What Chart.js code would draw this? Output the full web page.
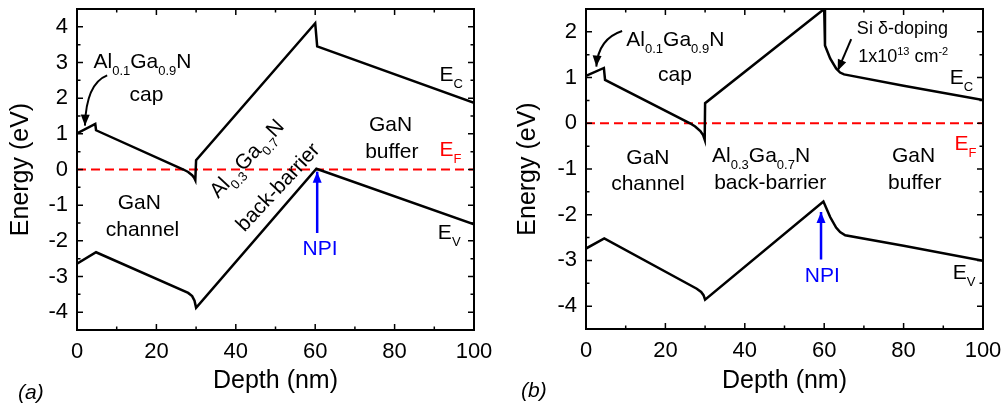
<!DOCTYPE html>
<html>
<head>
<meta charset="utf-8">
<script src="https://cdn.jsdelivr.net/npm/chart.js@4.4.1/dist/chart.umd.min.js"></script>
<style>
    body { margin: 0; background: #fff; }
    #wrap { position: relative; width: 1005px; height: 407px; }
    canvas { position: absolute; top: 0; }
    #chartA { left: 0; }
    #chartB { left: 502px; }
</style>
</head>
<body>
<div id="wrap">
    <canvas id="chartA" width="502" height="407"></canvas>
    <canvas id="chartB" width="503" height="407"></canvas>
</div>
<script>
// Panel (a): band edges, depth in nm, energy in eV
const depthA_Ec = [0, 4.6, 4.8, 26.8, 28, 29, 29.5, 29.8, 30, 60, 60.5, 100];
const energyA_Ec = [1.01, 1.28, 1.10, 0.0, -0.07, -0.16, -0.23, -0.30, 0.26, 4.10, 3.45, 1.87];
const depthA_Ev = [0, 4.8, 28, 29, 29.6, 30, 60.3, 100];
const energyA_Ev = [-2.64, -2.32, -3.46, -3.55, -3.68, -3.88, 0.02, -1.54];

// Panel (b)
const depthB_Ec = [0, 4.5, 4.8, 26.2, 27.5, 28.8, 29.5, 29.9, 30, 60, 60.2, 61.5, 63, 64, 65, 80, 100];
const energyB_Ec = [1.04, 1.21, 0.95, 0.0, -0.07, -0.17, -0.26, -0.36, 0.44, 2.5, 1.70, 1.42, 1.20, 1.11, 1.07, 0.82, 0.51];
const depthB_Ev = [0, 4.6, 27.9, 29, 29.6, 30, 59.8, 61.5, 63, 64, 65.3, 80, 100];
const energyB_Ev = [-2.74, -2.52, -3.62, -3.69, -3.76, -3.86, -1.71, -2.05, -2.28, -2.38, -2.45, -2.68, -3.01];

// Fermi level
const fermiDepth = [0, 100];
const fermiEnergy = [0, 0];

// Axis ticks
const depthTicks = [0, 20, 40, 60, 80, 100];
const energyTicksA = [-4, -3, -2, -1, 0, 1, 2, 3, 4];
const energyTicksB = [-4, -3, -2, -1, 0, 1, 2];

const FONT = "'Liberation Sans', Arial, sans-serif";
Chart.defaults.font.family = FONT;
Chart.defaults.color = '#000';

function toPoints(xs, ys) {
    return xs.map((x, i) => ({ x: x, y: ys[i] }));
}

function bandDataset(xs, ys) {
    return {
        data: toPoints(xs, ys),
        showLine: true,
        borderColor: '#000',
        borderWidth: 2.5,
        pointRadius: 0,
        tension: 0
    };
}

function fermiDataset() {
    return {
        data: toPoints(fermiDepth, fermiEnergy),
        showLine: true,
        borderColor: '#ff0000',
        borderWidth: 2,
        borderDash: [9, 5],
        pointRadius: 0
    };
}

// Text with sub/superscripts: parts = [[text, 'sub'|'sup'|undefined], ...]
function drawRich(ctx, parts, x, y, size, align, italic) {
    const fontOf = m => (italic ? 'italic ' : '') + (m ? Math.round(size * 0.62) : size) + 'px ' + FONT;
    let total = 0;
    parts.forEach(p => { ctx.font = fontOf(p[1]); total += ctx.measureText(p[0]).width; });
    let cx = align === 'center' ? x - total / 2 : (align === 'right' ? x - total : x);
    ctx.textAlign = 'left';
    ctx.textBaseline = 'alphabetic';
    parts.forEach(p => {
        ctx.font = fontOf(p[1]);
        const dy = p[1] === 'sub' ? size * 0.33 : (p[1] === 'sup' ? -size * 0.42 : 0);
        ctx.fillText(p[0], cx, y + dy);
        cx += ctx.measureText(p[0]).width;
    });
}

function drawHead(ctx, tx, ty, angle, len, half) {
    ctx.beginPath();
    ctx.moveTo(tx, ty);
    ctx.lineTo(tx - len * Math.cos(angle) + half * Math.sin(angle), ty - len * Math.sin(angle) - half * Math.cos(angle));
    ctx.lineTo(tx - len * Math.cos(angle) - half * Math.sin(angle), ty - len * Math.sin(angle) + half * Math.cos(angle));
    ctx.closePath();
    ctx.fill();
}

// Frame with inward ticks on all four sides
const frameTicks = {
    id: 'frameTicks',
    afterDatasetsDraw(chart) {
        const { ctx, chartArea: a, scales: { x, y } } = chart;
        ctx.save();
        ctx.strokeStyle = '#000';
        ctx.lineWidth = 1.5;
        ctx.beginPath();
        const xMajor = x.ticks.map(t => t.value);
        for (let v = x.min; v <= x.max + 1e-9; v += 10) {
            const px = x.getPixelForValue(v);
            const len = xMajor.some(m => Math.abs(m - v) < 1e-6) ? 6 : 3.5;
            ctx.moveTo(px, a.bottom); ctx.lineTo(px, a.bottom - len);
            ctx.moveTo(px, a.top); ctx.lineTo(px, a.top + len);
        }
        const yMajor = y.ticks.map(t => t.value);
        for (let v = y.min; v <= y.max + 1e-9; v += 0.5) {
            const py = y.getPixelForValue(v);
            const len = yMajor.some(m => Math.abs(m - v) < 1e-6) ? 6 : 3.5;
            ctx.moveTo(a.left, py); ctx.lineTo(a.left + len, py);
            ctx.moveTo(a.right, py); ctx.lineTo(a.right - len, py);
        }
        ctx.stroke();
        ctx.lineWidth = 2;
        ctx.strokeRect(a.left, a.top, a.right - a.left, a.bottom - a.top);
        ctx.restore();
    }
};

// Labels and arrows placed in data coordinates
const notes = {
    id: 'notes',
    afterDraw(chart, args, opts) {
        const { ctx, scales: { x, y } } = chart;
        const px = v => x.getPixelForValue(v);
        const py = v => y.getPixelForValue(v);
        ctx.save();
        (opts.items || []).forEach(it => {
            ctx.fillStyle = it.color || '#000';
            ctx.strokeStyle = it.color || '#000';
            if (it.type === 'text') {
                ctx.save();
                ctx.translate(px(it.x), py(it.y));
                if (it.rotate) ctx.rotate(it.rotate * Math.PI / 180);
                drawRich(ctx, it.parts, 0, 0, it.size || 21, it.align || 'center');
                ctx.restore();
            } else if (it.type === 'arrow') {
                const x0 = px(it.from[0]), y0 = py(it.from[1]);
                const x1 = px(it.to[0]), y1 = py(it.to[1]);
                ctx.lineWidth = it.width || 2;
                ctx.beginPath();
                ctx.moveTo(x0, y0);
                let ang;
                if (it.ctrl) {
                    const cx = px(it.ctrl[0]), cy = py(it.ctrl[1]);
                    ctx.quadraticCurveTo(cx, cy, x1, y1);
                    ang = Math.atan2(y1 - cy, x1 - cx);
                } else {
                    ctx.lineTo(x1, y1);
                    ang = Math.atan2(y1 - y0, x1 - x0);
                }
                ctx.stroke();
                drawHead(ctx, x1, y1, ang, 11, 4.5);
            }
        });
        if (opts.panel) {
            ctx.fillStyle = '#000';
            drawRich(ctx, [[opts.panel[0]]], opts.panel[1], opts.panel[2], 21, 'left', true);
        }
        ctx.restore();
    }
};

function getChartOptions(cfg) {
    return {
        responsive: false,
        animation: false,
        layout: { padding: { top: 9, right: cfg.padRight, left: 0, bottom: 0 } },
        plugins: {
            legend: { display: false },
            tooltip: { enabled: false },
            notes: { items: cfg.items, panel: cfg.panel }
        },
        scales: {
            x: {
                type: 'linear',
                min: 0,
                max: 100,
                grid: { display: false, drawTicks: false },
                border: { display: false },
                afterBuildTicks: s => { s.ticks = depthTicks.map(v => ({ value: v })); },
                ticks: { padding: 9, font: { size: 22 }, color: '#000' },
                title: { display: true, text: 'Depth (nm)', font: { size: 25 }, color: '#000', padding: { top: 0, bottom: 11 } },
                afterFit: s => {
                    s.height = cfg.xAxisHeight;
                    s.paddingLeft = 0;
                    s.paddingRight = 0;
                }
            },
            y: {
                type: 'linear',
                min: cfg.yMin,
                max: cfg.yMax,
                grid: { display: false, drawTicks: false },
                border: { display: false },
                afterBuildTicks: s => { s.ticks = cfg.yTicks.map(v => ({ value: v })); },
                ticks: { padding: 9, font: { size: 22 }, color: '#000' },
                title: { display: true, text: 'Energy (eV)', font: { size: 25 }, color: '#000', padding: { top: cfg.yTitlePad, bottom: 0 } },
                afterFit: s => {
                    s.width = cfg.yAxisWidth;
                    s.paddingTop = 0;
                    s.paddingBottom = 0;
                }
            }
        }
    };
}

const subAl01 = [['Al'], ['0.1', 'sub'], ['Ga'], ['0.9', 'sub'], ['N']];
const subAl03 = [['Al'], ['0.3', 'sub'], ['Ga'], ['0.7', 'sub'], ['N']];

function initChartA() {
    const items = [
        { type: 'text', x: 16.5, y: 2.85, parts: subAl01 },
        { type: 'text', x: 17.5, y: 1.92, parts: [['cap']] },
        { type: 'arrow', from: [7.6, 2.64], ctrl: [2.3, 2.41], to: [2.0, 1.23] },
        { type: 'text', x: 15.7, y: -1.12, parts: [['GaN']] },
        { type: 'text', x: 16.5, y: -1.87, parts: [['channel']] },
        { type: 'text', x: 44.0, y: 0.18, parts: subAl03, rotate: -47 },
        { type: 'text', x: 51.8, y: -0.62, parts: [['back-barrier']], rotate: -47 },
        { type: 'text', x: 79, y: 1.07, parts: [['GaN']] },
        { type: 'text', x: 79.3, y: 0.33, parts: [['buffer']] },
        { type: 'text', x: 91.3, y: 2.48, parts: [['E'], ['C', 'sub']], align: 'left' },
        { type: 'text', x: 91.3, y: 0.39, parts: [['E'], ['F', 'sub']], align: 'left', color: '#ff0000' },
        { type: 'text', x: 90.9, y: -1.96, parts: [['E'], ['V', 'sub']], align: 'left' },
        { type: 'arrow', from: [60.5, -1.78], to: [60.5, -0.06], color: '#0000ff', width: 2.5 },
        { type: 'text', x: 61.2, y: -2.41, parts: [['NPI']], color: '#0000ff' }
    ];
    new Chart(document.getElementById('chartA').getContext('2d'), {
        type: 'scatter',
        data: {
            datasets: [bandDataset(depthA_Ec, energyA_Ec), bandDataset(depthA_Ev, energyA_Ev), fermiDataset()]
        },
        options: getChartOptions({
            yMin: -4.5, yMax: 4.5, yTicks: energyTicksA,
            padRight: 28, yAxisWidth: 77, xAxisHeight: 77, yTitlePad: 6,
            items: items, panel: ['(a)', 18, 399]
        }),
        plugins: [frameTicks, notes]
    });
}

function initChartB() {
    const items = [
        { type: 'text', x: 22.5, y: 1.70, parts: subAl01 },
        { type: 'text', x: 22.4, y: 0.93, parts: [['cap']] },
        { type: 'arrow', from: [9.1, 2.02], ctrl: [3.1, 1.85], to: [2.6, 1.24] },
        { type: 'text', x: 15.6, y: -0.89, parts: [['GaN']] },
        { type: 'text', x: 15.6, y: -1.47, parts: [['channel']] },
        { type: 'text', x: 44.1, y: -0.85, parts: subAl03 },
        { type: 'text', x: 46.4, y: -1.43, parts: [['back-barrier']] },
        { type: 'text', x: 82.5, y: -0.85, parts: [['GaN']] },
        { type: 'text', x: 82.8, y: -1.43, parts: [['buffer']] },
        { type: 'text', x: 79.7, y: 1.95, parts: [['Si \u03b4-doping']], size: 18 },
        { type: 'text', x: 79.9, y: 1.33, parts: [['1x10'], ['13', 'sup'], [' cm'], ['-2', 'sup']], size: 18 },
        { type: 'arrow', from: [66.8, 1.84], to: [63.4, 1.15] },
        { type: 'text', x: 91.6, y: 0.86, parts: [['E'], ['C', 'sub']], align: 'left' },
        { type: 'text', x: 92.8, y: -0.58, parts: [['E'], ['F', 'sub']], align: 'left', color: '#ff0000' },
        { type: 'text', x: 92.4, y: -3.40, parts: [['E'], ['V', 'sub']], align: 'left' },
        { type: 'arrow', from: [59.2, -2.98], to: [59.2, -1.94], color: '#0000ff', width: 2.5 },
        { type: 'text', x: 59.5, y: -3.47, parts: [['NPI']], color: '#0000ff' }
    ];
    new Chart(document.getElementById('chartB').getContext('2d'), {
        type: 'scatter',
        data: {
            datasets: [bandDataset(depthB_Ec, energyB_Ec), bandDataset(depthB_Ev, energyB_Ev), fermiDataset()]
        },
        options: getChartOptions({
            yMin: -4.5, yMax: 2.5, yTicks: energyTicksB,
            padRight: 22, yAxisWidth: 84, xAxisHeight: 78, yTitlePad: 11,
            items: items, panel: ['(b)', 19, 397]
        }),
        plugins: [frameTicks, notes]
    });
}

initChartA();
initChartB();
</script>
</body>
</html>
